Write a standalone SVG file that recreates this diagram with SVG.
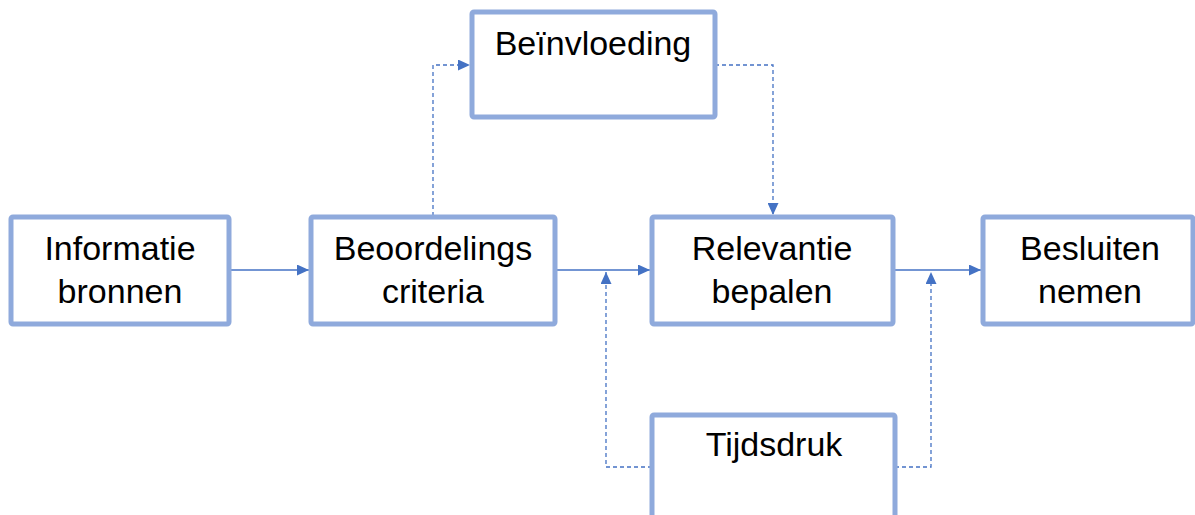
<svg xmlns="http://www.w3.org/2000/svg" width="1195" height="515" viewBox="0 0 1195 515">
<style>
.box{fill:#fff;stroke:#8faadc;stroke-width:5}
.t{font-family:"Liberation Sans",Arial,sans-serif;font-size:34px;fill:#000;text-anchor:middle}
.c{fill:none;stroke:#4472c4;stroke-width:1.3}
.d{stroke-dasharray:4 3}
</style>
<defs>
<marker id="ah" viewBox="0 0 12 11" refX="12" refY="5.5" markerWidth="12" markerHeight="11" markerUnits="userSpaceOnUse" orient="auto">
<path d="M0,0 L12,5.5 L0,11 z" fill="#4472c4"/>
</marker>
</defs>
<rect width="1195" height="515" fill="#fff"/>
<g id="connectors">
<path class="c" d="M229,270 H309" marker-end="url(#ah)"/>
<path class="c" d="M555,270 H650" marker-end="url(#ah)"/>
<path class="c" d="M893,270 H981" marker-end="url(#ah)"/>
<path class="c d" d="M433,216 V65 H470" marker-end="url(#ah)"/>
<path class="c d" d="M715,65 H773 V215" marker-end="url(#ah)"/>
<path class="c d" d="M652,467 H606 V272" marker-end="url(#ah)"/>
<path class="c d" d="M895,467 H931 V272" marker-end="url(#ah)"/>
</g>
<g id="n1"><rect class="box" x="11" y="217" width="218" height="107" rx="2"/>
<text class="t" x="120" y="260">Informatie</text><text class="t" x="120" y="303">bronnen</text></g>
<g id="n2"><rect class="box" x="311" y="217" width="244" height="107" rx="2"/>
<text class="t" x="433" y="260">Beoordelings</text><text class="t" x="433" y="303">criteria</text></g>
<g id="n3"><rect class="box" x="472" y="12" width="243" height="105" rx="2"/>
<text class="t" x="593" y="55">Beïnvloeding</text></g>
<g id="n4"><rect class="box" x="652" y="217" width="241" height="107" rx="2"/>
<text class="t" x="772" y="260">Relevantie</text><text class="t" x="772" y="303">bepalen</text></g>
<g id="n5"><rect class="box" x="983" y="217" width="210" height="107" rx="2"/>
<text class="t" x="1090" y="260">Besluiten</text><text class="t" x="1090" y="303">nemen</text></g>
<g id="n6"><rect class="box" x="652" y="415" width="243" height="110" rx="2"/>
<text class="t" x="774" y="456">Tijdsdruk</text></g>
</svg>
